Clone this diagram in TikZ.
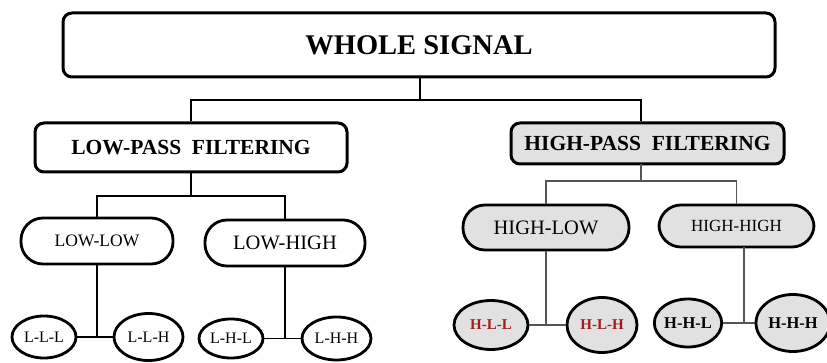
\documentclass[tikz,border=0pt]{standalone}
\usepackage{fontspec}
\setmainfont{Liberation Serif}
\usetikzlibrary{shapes.geometric,calc}
\definecolor{boxgray}{HTML}{E1E1E1}
\definecolor{leafred}{HTML}{A01E1E}
\definecolor{linegray}{HTML}{555555}
\tikzset{
  bigbox/.style={draw, line width=3pt, rectangle, rounded corners=9pt, inner sep=0pt},
  pill/.style={draw, line width=2.8pt, rectangle, rounded corners=22pt, inner sep=0pt},
  leaf/.style={draw, line width=2.8pt, ellipse, inner sep=0pt},
  conn/.style={line width=1.7pt, black},
  conng/.style={line width=1.7pt, linegray},
}
\begin{document}
\begin{tikzpicture}[x=1pt,y=-1pt]
\useasboundingbox (0,0) rectangle (827,363);
% level 0
\node[bigbox, minimum width=712pt, minimum height=64pt] (whole) at (419,45)
  {\fontsize{28.5}{30}\selectfont\bfseries WHOLE SIGNAL};
% level 1
\node[bigbox, minimum width=312pt, minimum height=49pt] (lowpass) at (191,147.5)
  {\fontsize{21.5}{23}\selectfont\bfseries LOW-PASS\ \ FILTERING};
\node[bigbox, fill=boxgray, minimum width=273pt, minimum height=41pt] (highpass) at (647.5,143.5)
  {\fontsize{21.5}{23}\selectfont\bfseries HIGH-PASS\ \ FILTERING};
% level 2
\node[pill, minimum width=152pt, minimum height=46pt] (lowlow) at (97,241)
  {\fontsize{17.5}{19}\selectfont LOW-LOW};
\node[pill, minimum width=160pt, minimum height=46pt] (lowhigh) at (285,243)
  {\fontsize{20.5}{22}\selectfont LOW-HIGH};
\node[pill, fill=boxgray, minimum width=166pt, minimum height=45pt] (highlow) at (546,227.5)
  {\fontsize{20.5}{22}\selectfont HIGH-LOW};
\node[pill, fill=boxgray, minimum width=155pt, minimum height=42pt] (highhigh) at (736.5,226)
  {\fontsize{17}{19}\selectfont HIGH-HIGH};
% level 3
\node[leaf, minimum width=64pt, minimum height=42pt] (lll) at (44,337)
  {\fontsize{16}{18}\selectfont L-L-L};
\node[leaf, minimum width=69pt, minimum height=47pt] (llh) at (148.5,337)
  {\fontsize{16}{18}\selectfont L-L-H};
\node[leaf, minimum width=64pt, minimum height=39pt] (lhl) at (231,338.5)
  {\fontsize{16}{18}\selectfont L-H-L};
\node[leaf, minimum width=69pt, minimum height=43pt] (lhh) at (336.5,338.5)
  {\fontsize{16}{18}\selectfont L-H-H};
\node[leaf, fill=boxgray, minimum width=74pt, minimum height=49pt] (hll) at (491,325)
  {\fontsize{15}{17}\selectfont\bfseries\color{leafred} H-L-L};
\node[leaf, fill=boxgray, minimum width=70pt, minimum height=55pt] (hlh) at (602,325)
  {\fontsize{15}{17}\selectfont\bfseries\color{leafred} H-L-H};
\node[leaf, fill=boxgray, minimum width=62pt, minimum height=48pt] (hhl) at (688,323)
  {\fontsize{16.5}{18}\selectfont\bfseries H-H-L};
\node[leaf, fill=boxgray, minimum width=74pt, minimum height=57pt] (hhh) at (793,323)
  {\fontsize{16.5}{18}\selectfont\bfseries H-H-H};
% junctions
\coordinate (j0) at (420,100);
\coordinate (j1) at (191,196);
\coordinate (j2a) at (641,164);
\coordinate (j2) at (641,181);
\coordinate (j5) at (744,247);
% connectors
\draw[conn] (whole.south -| j0) -- (j0);
\draw[conn] (lowpass.north) |- (j0) -| (highpass.north -| j2a);
\draw[conn] (lowpass.south) -- (j1);
\draw[conn] (lowlow.north) |- (j1) -| (lowhigh.north);
\draw[conng] (j2a) -- (j2);
\draw[conng] (highlow.north) |- (j2) -| (highhigh.north);
\draw[conn] (lowlow.south) -- (lowlow.south |- lll.east);
\draw[conn] (lll.east) -- (llh.west);
\draw[conn] (lowhigh.south) -- (lowhigh.south |- lhl.east);
\draw[conn] (lhl.east) -- (lhh.west);
\draw[conng] (highlow.south) -- (highlow.south |- hll.east);
\draw[conng] (hll.east) -- (hlh.west);
\draw[conng] (j5) -- (j5 |- hhl.east);
\draw[conng] (hhl.east) -- (hhh.west);
\end{tikzpicture}
\end{document}
